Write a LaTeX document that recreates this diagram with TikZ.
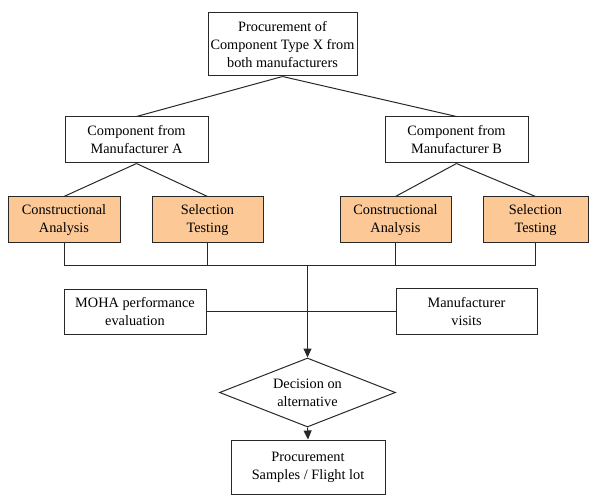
\documentclass[tikz,border=0pt]{standalone}
\usepackage{fontspec}
\setmainfont{Liberation Serif}
\usetikzlibrary{shapes.geometric,arrows.meta}
\definecolor{boxorange}{RGB}{251,200,150}
\definecolor{lineg}{RGB}{40,40,40}
\begin{document}
\begin{tikzpicture}[x=1pt,y=1pt,
  box/.style={draw=lineg,line width=1pt,rectangle,align=center,inner sep=0pt,font=\fontsize{14.3}{18}\selectfont},
  obox/.style={box,fill=boxorange},
  conn/.style={draw=lineg,line width=1pt},
  arr/.style={conn,-{Triangle[length=9pt,width=8pt]}}]
\useasboundingbox (0,0) rectangle (589,496);
\node[box,minimum width=149,minimum height=63] (top) at (282.5,451.5) {Procurement of\\Component Type X from\\both manufacturers};
\node[box,minimum width=143,minimum height=46] (compA) at (136.5,356) {Component from\\Manufacturer A};
\node[box,minimum width=143,minimum height=46] (compB) at (456.5,356) {Component from\\Manufacturer B};
\node[obox,minimum width=112,minimum height=46] (caA) at (64,276) {Constructional\\Analysis};
\node[obox,minimum width=111,minimum height=46] (stA) at (207.5,276) {Selection\\Testing};
\node[obox,minimum width=111,minimum height=46] (caB) at (395.5,276) {Constructional\\Analysis};
\node[obox,minimum width=105,minimum height=46] (stB) at (535.5,276) {Selection\\Testing};
\node[box,minimum width=142,minimum height=45] (moha) at (135,184.5) {MOHA performance\\evaluation};
\node[box,minimum width=141,minimum height=46] (manuf) at (466.5,184.5) {Manufacturer\\visits};
\node[box,diamond,aspect=2.55,minimum width=176,minimum height=69] (dec) at (307.5,103.5) {Decision on\\alternative};
\node[box,minimum width=154,minimum height=54] (fin) at (308,29) {Procurement\\Samples / Flight lot};
\coordinate (bus) at (307.5,230);
\draw[conn] (top.south) -- (compA.north);
\draw[conn] (top.south) -- (compB.north);
\draw[conn] (compA.south) -- (caA.north);
\draw[conn] (compA.south) -- (stA.north);
\draw[conn] (compB.south) -- (caB.north);
\draw[conn] (compB.south) -- (stB.north);
\draw[conn] (caA.south) -- (caA.south |- bus) -- (stB.south |- bus) -- (stB.south);
\draw[conn] (stA.south) -- (stA.south |- bus);
\draw[conn] (caB.south) -- (caB.south |- bus);
\draw[conn] (moha.east) -- (manuf.west);
\draw[arr] (bus) -- (dec.north);
\draw[arr] (dec.south) -- (fin.north);
\end{tikzpicture}
\end{document}
